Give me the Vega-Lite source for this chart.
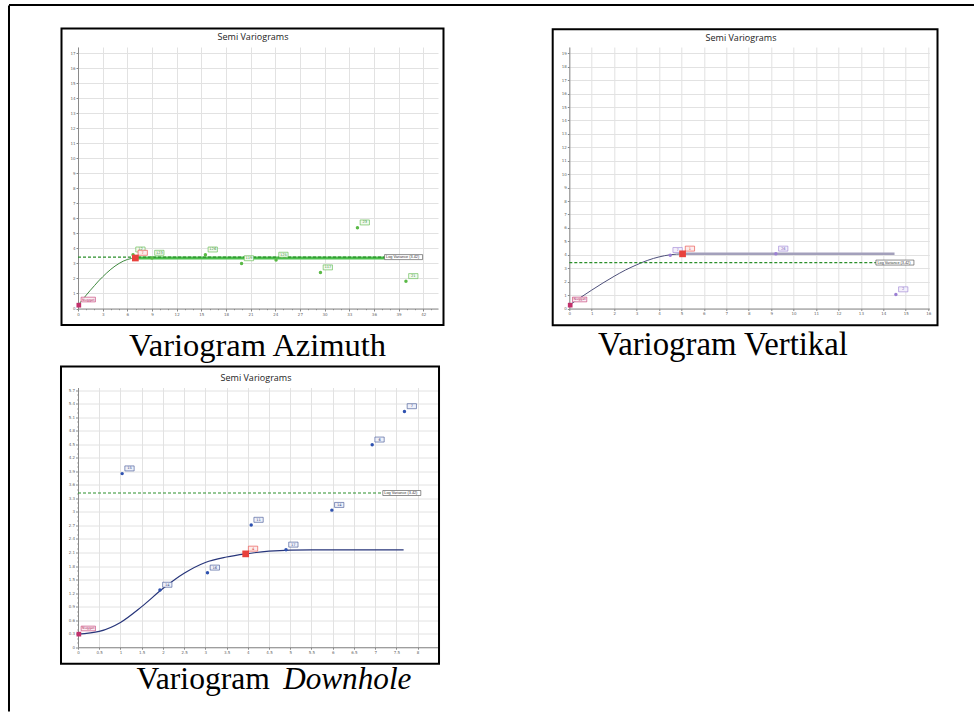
{
  "$schema": "https://vega.github.io/schema/vega-lite/v6.json",
  "background": "white",
  "padding": {"left": 7, "top": 3, "right": 0, "bottom": 0},
  "bounds": "flush",
  "columns": 2,
  "spacing": {"row": 78.5, "column": 131.3},
  "datasets": {
    "az_pts": [
      {"x": 0.1, "y": 0.22, "kind": "nugget", "label": "Nugget"},
      {"x": 6.98, "y": 3.36, "kind": "range", "label": "7"},
      {"x": 6.7, "y": 3.58, "kind": "lag", "label": "12"},
      {"x": 9.0, "y": 3.36, "kind": "lag", "label": "123"},
      {"x": 15.5, "y": 3.58, "kind": "lag", "label": "126"},
      {"x": 19.9, "y": 3.0, "kind": "lag", "label": "119"},
      {"x": 24.1, "y": 3.23, "kind": "lag", "label": "125"},
      {"x": 29.5, "y": 2.39, "kind": "lag", "label": "117"},
      {"x": 34.0, "y": 5.38, "kind": "lag", "label": "23"},
      {"x": 39.9, "y": 1.81, "kind": "lag", "label": "21"}
    ],
    "az_curve": [
      {"x": 0, "y": 0.22}, {"x": 0.5, "y": 0.55}, {"x": 1, "y": 0.89}, {"x": 1.5, "y": 1.21},
      {"x": 2, "y": 1.52}, {"x": 2.5, "y": 1.83}, {"x": 3, "y": 2.11}, {"x": 3.5, "y": 2.37},
      {"x": 4, "y": 2.61}, {"x": 4.5, "y": 2.82}, {"x": 5, "y": 3.0}, {"x": 5.5, "y": 3.15},
      {"x": 6, "y": 3.26}, {"x": 6.5, "y": 3.33}, {"x": 6.98, "y": 3.36}
    ],
    "az_lines": [
      {"kind": "model", "x": 6.98, "x2": 37.3, "y": 3.36, "label": ""},
      {"kind": "sill", "x": 0, "x2": 37.3, "y": 3.42, "label": "Log Variance (3.42)"}
    ],
    "ve_pts": [
      {"x": 0.04, "y": 0.25, "kind": "nugget", "label": "Nugget"},
      {"x": 5.05, "y": 4.07, "kind": "range", "label": "1"},
      {"x": 4.5, "y": 3.97, "kind": "lag", "label": "7"},
      {"x": 9.21, "y": 4.07, "kind": "lag", "label": "26"},
      {"x": 14.56, "y": 1.04, "kind": "lag", "label": "2"}
    ],
    "ve_curve": [
      {"x": 0, "y": 0.25}, {"x": 0.5, "y": 0.82}, {"x": 1, "y": 1.37}, {"x": 1.5, "y": 1.9},
      {"x": 2, "y": 2.4}, {"x": 2.5, "y": 2.86}, {"x": 3, "y": 3.25}, {"x": 3.5, "y": 3.59},
      {"x": 4, "y": 3.84}, {"x": 4.5, "y": 4.0}, {"x": 5.05, "y": 4.07}
    ],
    "ve_lines": [
      {"kind": "model", "x": 5.05, "x2": 14.5, "y": 4.07, "label": ""},
      {"kind": "sill", "x": 0, "x2": 13.67, "y": 3.42, "label": "Log Variance (3.42)"}
    ],
    "dh_pts": [
      {"x": 0.02, "y": 0.29, "kind": "nugget", "label": "Nugget"},
      {"x": 3.95, "y": 2.07, "kind": "range", "label": "4"},
      {"x": 1.04, "y": 3.85, "kind": "lag", "label": "15"},
      {"x": 1.93, "y": 1.27, "kind": "lag", "label": "14"},
      {"x": 3.05, "y": 1.65, "kind": "lag", "label": "16"},
      {"x": 4.08, "y": 2.71, "kind": "lag", "label": "11"},
      {"x": 4.9, "y": 2.16, "kind": "lag", "label": "17"},
      {"x": 5.98, "y": 3.04, "kind": "lag", "label": "14"},
      {"x": 6.93, "y": 4.49, "kind": "lag", "label": "6"},
      {"x": 7.69, "y": 5.23, "kind": "lag", "label": "7"}
    ],
    "dh_curve": [
      {"x": 0, "y": 0.29}, {"x": 0.5, "y": 0.35}, {"x": 1, "y": 0.55}, {"x": 1.5, "y": 0.9},
      {"x": 2, "y": 1.3}, {"x": 2.5, "y": 1.64}, {"x": 3, "y": 1.88}, {"x": 3.5, "y": 2.0},
      {"x": 3.95, "y": 2.07}, {"x": 4.5, "y": 2.13}, {"x": 5, "y": 2.155}, {"x": 5.5, "y": 2.16},
      {"x": 7.67, "y": 2.16}
    ],
    "dh_lines": [
      {"kind": "sill", "x": 0, "x2": 7.18, "y": 3.42, "label": "Log Variance (3.42)"}
    ]
  },
  "concat": [
    {
      "width": 360,
      "height": 261.5,
      "title": {"text": "Semi Variograms", "frame": "group", "anchor": "middle", "offset": -44.7, "baseline": "alphabetic", "dx": -5, "color": "#222222"},
      "layer": [
        {
          "data": {"name": "az_curve"},
          "mark": {"type": "line", "stroke": "#3f8a3f", "strokeWidth": 1, "interpolate": "monotone"},
          "encoding": {
            "x": {"field": "x", "type": "quantitative", "scale": {"domain": [0, 43.8], "nice": false, "zero": false},
              "axis": {"tickCount": 44, "labelExpr": "datum.value % 3 == 0 ? datum.label : ''",
                "gridColor": {"condition": {"test": "datum.value % 3 != 0", "value": "transparent"}, "value": "#e2e2e2"},
                "tickSize": {"condition": {"test": "datum.value % 3 != 0", "value": 1.2}, "value": 2.5},
                "title": "Variogram Azimuth", "titleX": 179, "titleY": 46.5, "titleAlign": "center", "titleFontSize": 32.5}},
            "y": {"field": "y", "type": "quantitative", "scale": {"domain": [0, 17.4], "nice": false, "zero": false},
              "axis": {"tickCount": 17, "title": null}}
          }
        },
        {
          "data": {"values": [{}]},
          "mark": {"type": "rect", "fillOpacity": 0, "stroke": "black", "strokeWidth": 2},
          "encoding": {"x": {"datum": -2.0075, "type": "quantitative"}, "x2": {"datum": 44.469}, "y": {"datum": 18.631, "type": "quantitative"}, "y2": {"datum": -1.098}}
        },
        {
          "data": {"values": [{"edge": "top"}]},
          "mark": {"type": "rule", "stroke": "black", "strokeWidth": 2},
          "encoding": {"x": {"datum": -8.395, "type": "quantitative"}, "x2": {"datum": 109.01}, "y": {"datum": 20.195, "type": "quantitative"}}
        },
        {
          "data": {"name": "az_lines"},
          "transform": [{"filter": "datum.kind == 'model'"}],
          "mark": {"type": "rule", "stroke": "#4cbf4c", "strokeWidth": 3},
          "encoding": {"x": {"field": "x", "type": "quantitative"}, "x2": {"field": "x2"}, "y": {"field": "y", "type": "quantitative"}}
        },
        {
          "data": {"name": "az_lines"},
          "transform": [{"filter": "datum.kind == 'sill'"}],
          "mark": {"type": "rule", "stroke": "#2a8f2a", "strokeWidth": 1.2, "strokeDash": [3, 2]},
          "encoding": {"x": {"field": "x", "type": "quantitative"}, "x2": {"field": "x2"}, "y": {"field": "y", "type": "quantitative"}}
        },
        {
          "data": {"name": "az_lines"},
          "transform": [{"filter": "datum.kind == 'sill'"}],
          "mark": {"type": "point", "shape": "M 0 -0.125 L 1.9 -0.125 L 1.9 0.125 L 0 0.125 Z", "size": 1600, "filled": true, "fill": "white", "stroke": "#444", "strokeWidth": 0.6, "opacity": 1},
          "encoding": {"x": {"field": "x2", "type": "quantitative"}, "y": {"field": "y", "type": "quantitative"}}
        },
        {
          "data": {"name": "az_lines"},
          "transform": [{"filter": "datum.kind == 'sill'"}],
          "mark": {"type": "text", "align": "left", "baseline": "middle", "dx": 1.5, "fontSize": 3.8, "font": "Liberation Sans", "color": "#333"},
          "encoding": {"x": {"field": "x2", "type": "quantitative"}, "y": {"field": "y", "type": "quantitative"}, "text": {"field": "label"}}
        },
        {
          "data": {"name": "az_pts"},
          "transform": [{"filter": "datum.kind == 'lag'"}],
          "mark": {"type": "point", "shape": "M 0.225 -0.642 L 1 -0.642 L 1 -0.225 L 0.225 -0.225 Z", "size": 576, "filled": true, "fill": "#f1faef", "stroke": "#5ab946", "strokeWidth": 0.6, "opacity": 1},
          "encoding": {"x": {"field": "x", "type": "quantitative"}, "y": {"field": "y", "type": "quantitative"}}
        },
        {
          "data": {"name": "az_pts"},
          "transform": [{"filter": "datum.kind == 'lag'"}],
          "mark": {"type": "text", "align": "center", "baseline": "middle", "dx": 7.35, "dy": -5.2, "fontSize": 3.6, "font": "DejaVu Sans", "color": "#3b8d3b"},
          "encoding": {"x": {"field": "x", "type": "quantitative"}, "y": {"field": "y", "type": "quantitative"}, "text": {"field": "label"}}
        },
        {
          "data": {"name": "az_pts"},
          "transform": [{"filter": "datum.kind == 'lag'"}],
          "mark": {"type": "point", "shape": "circle", "size": 12, "filled": true, "color": "#5ab946", "opacity": 1},
          "encoding": {"x": {"field": "x", "type": "quantitative"}, "y": {"field": "y", "type": "quantitative"}}
        },
        {
          "data": {"name": "az_pts"},
          "transform": [{"filter": "datum.kind == 'range'"}],
          "mark": {"type": "point", "shape": "M 0.225 -0.642 L 1 -0.642 L 1 -0.225 L 0.225 -0.225 Z", "size": 576, "filled": true, "fill": "#fdeceb", "stroke": "#e8413c", "strokeWidth": 0.6, "opacity": 1},
          "encoding": {"x": {"field": "x", "type": "quantitative"}, "y": {"field": "y", "type": "quantitative"}}
        },
        {
          "data": {"name": "az_pts"},
          "transform": [{"filter": "datum.kind == 'range'"}],
          "mark": {"type": "text", "align": "center", "baseline": "middle", "dx": 7.35, "dy": -5.2, "fontSize": 3.6, "font": "DejaVu Sans", "color": "#d43a35"},
          "encoding": {"x": {"field": "x", "type": "quantitative"}, "y": {"field": "y", "type": "quantitative"}, "text": {"field": "label"}}
        },
        {
          "data": {"name": "az_pts"},
          "transform": [{"filter": "datum.kind == 'range'"}],
          "mark": {"type": "point", "shape": "square", "size": 45, "filled": true, "color": "#e8413c", "opacity": 1},
          "encoding": {"x": {"field": "x", "type": "quantitative"}, "y": {"field": "y", "type": "quantitative"}}
        },
        {
          "data": {"name": "az_pts"},
          "transform": [{"filter": "datum.kind == 'nugget'"}],
          "mark": {"type": "point", "shape": "M 0.19 -0.667 L 1.383 -0.667 L 1.383 -0.275 L 0.19 -0.275 Z", "size": 576, "filled": true, "fill": "#fbeef3", "stroke": "#c2306b", "strokeWidth": 0.6, "opacity": 1},
          "encoding": {"x": {"field": "x", "type": "quantitative"}, "y": {"field": "y", "type": "quantitative"}}
        },
        {
          "data": {"name": "az_pts"},
          "transform": [{"filter": "datum.kind == 'nugget'"}],
          "mark": {"type": "text", "align": "center", "baseline": "middle", "dx": 9.45, "dy": -5.65, "fontSize": 3.4, "font": "DejaVu Sans", "color": "#b02a60"},
          "encoding": {"x": {"field": "x", "type": "quantitative"}, "y": {"field": "y", "type": "quantitative"}, "text": {"field": "label"}}
        },
        {
          "data": {"name": "az_pts"},
          "transform": [{"filter": "datum.kind == 'nugget'"}],
          "mark": {"type": "point", "shape": "square", "size": 22, "filled": true, "color": "#c2306b", "opacity": 1},
          "encoding": {"x": {"field": "x", "type": "quantitative"}, "y": {"field": "y", "type": "quantitative"}}
        }
      ]
    },
    {
      "width": 360,
      "height": 261.5,
      "title": {"text": "Semi Variograms", "frame": "group", "anchor": "middle", "offset": -21.4, "baseline": "alphabetic", "dx": -8.3, "color": "#222222"},
      "layer": [
        {
          "data": {"name": "ve_curve"},
          "mark": {"type": "line", "stroke": "#4d4f7a", "strokeWidth": 1, "interpolate": "monotone"},
          "encoding": {
            "x": {"field": "x", "type": "quantitative", "scale": {"domain": [0, 16.05], "nice": false, "zero": false},
              "axis": {"tickCount": 16, "title": "Variogram Vertikal", "titleX": 153.2, "titleY": 45.8, "titleAlign": "center", "titleFontSize": 32.8}},
            "y": {"field": "y", "type": "quantitative", "scale": {"domain": [0, 19.47], "nice": false, "zero": false},
              "axis": {"tickCount": 19, "title": null}}
          }
        },
        {
          "data": {"values": [{}]},
          "mark": {"type": "rect", "fillOpacity": 0, "stroke": "black", "strokeWidth": 2},
          "encoding": {"x": {"datum": -0.740, "type": "quantitative"}, "x2": {"datum": 16.416}, "y": {"datum": 20.789, "type": "quantitative"}, "y2": {"datum": -1.251}}
        },
        {
          "data": {"name": "ve_lines"},
          "transform": [{"filter": "datum.kind == 'model'"}],
          "mark": {"type": "rule", "stroke": "#a3a0bb", "strokeWidth": 2.5},
          "encoding": {"x": {"field": "x", "type": "quantitative"}, "x2": {"field": "x2"}, "y": {"field": "y", "type": "quantitative"}}
        },
        {
          "data": {"name": "ve_lines"},
          "transform": [{"filter": "datum.kind == 'sill'"}],
          "mark": {"type": "rule", "stroke": "#2a8f2a", "strokeWidth": 1.2, "strokeDash": [3, 2]},
          "encoding": {"x": {"field": "x", "type": "quantitative"}, "x2": {"field": "x2"}, "y": {"field": "y", "type": "quantitative"}}
        },
        {
          "data": {"name": "ve_lines"},
          "transform": [{"filter": "datum.kind == 'sill'"}],
          "mark": {"type": "point", "shape": "M 0 -0.125 L 1.9 -0.125 L 1.9 0.125 L 0 0.125 Z", "size": 1600, "filled": true, "fill": "white", "stroke": "#444", "strokeWidth": 0.6, "opacity": 1},
          "encoding": {"x": {"field": "x2", "type": "quantitative"}, "y": {"field": "y", "type": "quantitative"}}
        },
        {
          "data": {"name": "ve_lines"},
          "transform": [{"filter": "datum.kind == 'sill'"}],
          "mark": {"type": "text", "align": "left", "baseline": "middle", "dx": 1.5, "fontSize": 3.8, "font": "Liberation Sans", "color": "#333"},
          "encoding": {"x": {"field": "x2", "type": "quantitative"}, "y": {"field": "y", "type": "quantitative"}, "text": {"field": "label"}}
        },
        {
          "data": {"name": "ve_pts"},
          "transform": [{"filter": "datum.kind == 'lag'"}],
          "mark": {"type": "point", "shape": "M 0.225 -0.642 L 1 -0.642 L 1 -0.225 L 0.225 -0.225 Z", "size": 576, "filled": true, "fill": "#f3effb", "stroke": "#9b7fd4", "strokeWidth": 0.6, "opacity": 1},
          "encoding": {"x": {"field": "x", "type": "quantitative"}, "y": {"field": "y", "type": "quantitative"}}
        },
        {
          "data": {"name": "ve_pts"},
          "transform": [{"filter": "datum.kind == 'lag'"}],
          "mark": {"type": "text", "align": "center", "baseline": "middle", "dx": 7.35, "dy": -5.2, "fontSize": 3.6, "font": "DejaVu Sans", "color": "#7a5fb8"},
          "encoding": {"x": {"field": "x", "type": "quantitative"}, "y": {"field": "y", "type": "quantitative"}, "text": {"field": "label"}}
        },
        {
          "data": {"name": "ve_pts"},
          "transform": [{"filter": "datum.kind == 'lag'"}],
          "mark": {"type": "point", "shape": "circle", "size": 12, "filled": true, "color": "#9b7fd4", "opacity": 1},
          "encoding": {"x": {"field": "x", "type": "quantitative"}, "y": {"field": "y", "type": "quantitative"}}
        },
        {
          "data": {"name": "ve_pts"},
          "transform": [{"filter": "datum.kind == 'range'"}],
          "mark": {"type": "point", "shape": "M 0.225 -0.642 L 1 -0.642 L 1 -0.225 L 0.225 -0.225 Z", "size": 576, "filled": true, "fill": "#fdeceb", "stroke": "#e8413c", "strokeWidth": 0.6, "opacity": 1},
          "encoding": {"x": {"field": "x", "type": "quantitative"}, "y": {"field": "y", "type": "quantitative"}}
        },
        {
          "data": {"name": "ve_pts"},
          "transform": [{"filter": "datum.kind == 'range'"}],
          "mark": {"type": "text", "align": "center", "baseline": "middle", "dx": 7.35, "dy": -5.2, "fontSize": 3.6, "font": "DejaVu Sans", "color": "#d43a35"},
          "encoding": {"x": {"field": "x", "type": "quantitative"}, "y": {"field": "y", "type": "quantitative"}, "text": {"field": "label"}}
        },
        {
          "data": {"name": "ve_pts"},
          "transform": [{"filter": "datum.kind == 'range'"}],
          "mark": {"type": "point", "shape": "square", "size": 45, "filled": true, "color": "#e8413c", "opacity": 1},
          "encoding": {"x": {"field": "x", "type": "quantitative"}, "y": {"field": "y", "type": "quantitative"}}
        },
        {
          "data": {"name": "ve_pts"},
          "transform": [{"filter": "datum.kind == 'nugget'"}],
          "mark": {"type": "point", "shape": "M 0.19 -0.667 L 1.383 -0.667 L 1.383 -0.275 L 0.19 -0.275 Z", "size": 576, "filled": true, "fill": "#fbeef3", "stroke": "#c2306b", "strokeWidth": 0.6, "opacity": 1},
          "encoding": {"x": {"field": "x", "type": "quantitative"}, "y": {"field": "y", "type": "quantitative"}}
        },
        {
          "data": {"name": "ve_pts"},
          "transform": [{"filter": "datum.kind == 'nugget'"}],
          "mark": {"type": "text", "align": "center", "baseline": "middle", "dx": 9.45, "dy": -5.65, "fontSize": 3.4, "font": "DejaVu Sans", "color": "#b02a60"},
          "encoding": {"x": {"field": "x", "type": "quantitative"}, "y": {"field": "y", "type": "quantitative"}, "text": {"field": "label"}}
        },
        {
          "data": {"name": "ve_pts"},
          "transform": [{"filter": "datum.kind == 'nugget'"}],
          "mark": {"type": "point", "shape": "square", "size": 22, "filled": true, "color": "#c2306b", "opacity": 1},
          "encoding": {"x": {"field": "x", "type": "quantitative"}, "y": {"field": "y", "type": "quantitative"}}
        }
      ]
    },
    {
      "width": 360,
      "height": 259.7,
      "title": {"text": "Semi Variograms", "frame": "group", "anchor": "middle", "offset": -385, "baseline": "alphabetic", "dx": -2, "color": "#222222"},
      "layer": [
        {
          "data": {"name": "dh_curve"},
          "mark": {"type": "line", "stroke": "#27357a", "strokeWidth": 1.2, "interpolate": "monotone"},
          "encoding": {
            "x": {"field": "x", "type": "quantitative", "scale": {"domain": [0, 8.48], "nice": false, "zero": false},
              "axis": {"tickCount": 17, "format": "~g", "title": "Variogram", "titleX": 58, "titleY": 41.6, "titleAlign": "left", "titleFontSize": 31.6}},
            "y": {"field": "y", "type": "quantitative", "scale": {"domain": [0, 5.76], "nice": false, "zero": false},
              "axis": {"tickCount": 58, "labelExpr": "round(datum.value * 10) % 3 == 0 ? format(datum.value, '~g') : ''",
                "gridColor": {"condition": {"test": "round(datum.value * 10) % 3 != 0", "value": "transparent"}, "value": "#e2e2e2"},
                "tickSize": {"condition": {"test": "round(datum.value * 10) % 3 != 0", "value": 1.2}, "value": 2.5},
                "title": "Downhole", "titleAngle": 0, "titleAlign": "left", "titleX": 204.7, "titleY": 301.3, "titleFontStyle": "italic", "titleFontSize": 31.2}}
          }
        },
        {
          "data": {"values": [{}]},
          "mark": {"type": "rect", "fillOpacity": 0, "stroke": "black", "strokeWidth": 2},
          "encoding": {"x": {"datum": -0.4005, "type": "quantitative"}, "x2": {"datum": 8.504}, "y": {"datum": 6.2258, "type": "quantitative"}, "y2": {"datum": -0.3682}}
        },
        {
          "data": {"values": [{"edge": "left"}]},
          "mark": {"type": "rule", "stroke": "black", "strokeWidth": 2},
          "encoding": {"x": {"datum": -1.6254, "type": "quantitative"}, "y": {"datum": 14.232, "type": "quantitative"}, "y2": {"datum": -1.427}}
        },
        {
          "data": {"name": "dh_lines"},
          "mark": {"type": "rule", "stroke": "#2a8f2a", "strokeWidth": 1.2, "strokeDash": [3, 2]},
          "encoding": {"x": {"field": "x", "type": "quantitative"}, "x2": {"field": "x2"}, "y": {"field": "y", "type": "quantitative"}}
        },
        {
          "data": {"name": "dh_lines"},
          "mark": {"type": "point", "shape": "M 0 -0.125 L 1.9 -0.125 L 1.9 0.125 L 0 0.125 Z", "size": 1600, "filled": true, "fill": "white", "stroke": "#444", "strokeWidth": 0.6, "opacity": 1},
          "encoding": {"x": {"field": "x2", "type": "quantitative"}, "y": {"field": "y", "type": "quantitative"}}
        },
        {
          "data": {"name": "dh_lines"},
          "mark": {"type": "text", "align": "left", "baseline": "middle", "dx": 1.5, "fontSize": 3.8, "font": "Liberation Sans", "color": "#333"},
          "encoding": {"x": {"field": "x2", "type": "quantitative"}, "y": {"field": "y", "type": "quantitative"}, "text": {"field": "label"}}
        },
        {
          "data": {"name": "dh_pts"},
          "transform": [{"filter": "datum.kind == 'lag'"}],
          "mark": {"type": "point", "shape": "M 0.225 -0.642 L 1 -0.642 L 1 -0.225 L 0.225 -0.225 Z", "size": 576, "filled": true, "fill": "#eef1fa", "stroke": "#3a4f90", "strokeWidth": 0.6, "opacity": 1},
          "encoding": {"x": {"field": "x", "type": "quantitative"}, "y": {"field": "y", "type": "quantitative"}}
        },
        {
          "data": {"name": "dh_pts"},
          "transform": [{"filter": "datum.kind == 'lag'"}],
          "mark": {"type": "text", "align": "center", "baseline": "middle", "dx": 7.35, "dy": -5.2, "fontSize": 3.6, "font": "DejaVu Sans", "color": "#2f3f80"},
          "encoding": {"x": {"field": "x", "type": "quantitative"}, "y": {"field": "y", "type": "quantitative"}, "text": {"field": "label"}}
        },
        {
          "data": {"name": "dh_pts"},
          "transform": [{"filter": "datum.kind == 'lag'"}],
          "mark": {"type": "point", "shape": "circle", "size": 12, "filled": true, "color": "#2f52b0", "opacity": 1},
          "encoding": {"x": {"field": "x", "type": "quantitative"}, "y": {"field": "y", "type": "quantitative"}}
        },
        {
          "data": {"name": "dh_pts"},
          "transform": [{"filter": "datum.kind == 'range'"}],
          "mark": {"type": "point", "shape": "M 0.225 -0.642 L 1 -0.642 L 1 -0.225 L 0.225 -0.225 Z", "size": 576, "filled": true, "fill": "#fdeceb", "stroke": "#e8413c", "strokeWidth": 0.6, "opacity": 1},
          "encoding": {"x": {"field": "x", "type": "quantitative"}, "y": {"field": "y", "type": "quantitative"}}
        },
        {
          "data": {"name": "dh_pts"},
          "transform": [{"filter": "datum.kind == 'range'"}],
          "mark": {"type": "text", "align": "center", "baseline": "middle", "dx": 7.35, "dy": -5.2, "fontSize": 3.6, "font": "DejaVu Sans", "color": "#d43a35"},
          "encoding": {"x": {"field": "x", "type": "quantitative"}, "y": {"field": "y", "type": "quantitative"}, "text": {"field": "label"}}
        },
        {
          "data": {"name": "dh_pts"},
          "transform": [{"filter": "datum.kind == 'range'"}],
          "mark": {"type": "point", "shape": "square", "size": 45, "filled": true, "color": "#e8413c", "opacity": 1},
          "encoding": {"x": {"field": "x", "type": "quantitative"}, "y": {"field": "y", "type": "quantitative"}}
        },
        {
          "data": {"name": "dh_pts"},
          "transform": [{"filter": "datum.kind == 'nugget'"}],
          "mark": {"type": "point", "shape": "M 0.19 -0.667 L 1.383 -0.667 L 1.383 -0.275 L 0.19 -0.275 Z", "size": 576, "filled": true, "fill": "#fbeef3", "stroke": "#c2306b", "strokeWidth": 0.6, "opacity": 1},
          "encoding": {"x": {"field": "x", "type": "quantitative"}, "y": {"field": "y", "type": "quantitative"}}
        },
        {
          "data": {"name": "dh_pts"},
          "transform": [{"filter": "datum.kind == 'nugget'"}],
          "mark": {"type": "text", "align": "center", "baseline": "middle", "dx": 9.45, "dy": -5.65, "fontSize": 3.4, "font": "DejaVu Sans", "color": "#b02a60"},
          "encoding": {"x": {"field": "x", "type": "quantitative"}, "y": {"field": "y", "type": "quantitative"}, "text": {"field": "label"}}
        },
        {
          "data": {"name": "dh_pts"},
          "transform": [{"filter": "datum.kind == 'nugget'"}],
          "mark": {"type": "point", "shape": "square", "size": 22, "filled": true, "color": "#c2306b", "opacity": 1},
          "encoding": {"x": {"field": "x", "type": "quantitative"}, "y": {"field": "y", "type": "quantitative"}}
        }
      ]
    }
  ],
  "config": {
    "view": {"stroke": null},
    "axis": {
      "grid": true,
      "gridColor": "#e2e2e2",
      "gridWidth": 1,
      "domainColor": "#8a8a8a",
      "domainWidth": 1,
      "tickColor": "#8a8a8a",
      "tickSize": 2,
      "labelFontSize": 4,
      "labelColor": "#666666",
      "labelFont": "DejaVu Sans",
      "labelPadding": 1,
      "labelFlush": false,
      "labelOverlap": false,
      "titleFont": "Liberation Serif",
      "titleFontSize": 31,
      "titleFontWeight": "normal",
      "titleColor": "black",
      "titleBaseline": "alphabetic"
    },
    "title": {"font": "Open Sans", "fontSize": 9, "fontWeight": "normal", "color": "#222222"}
  }
}
